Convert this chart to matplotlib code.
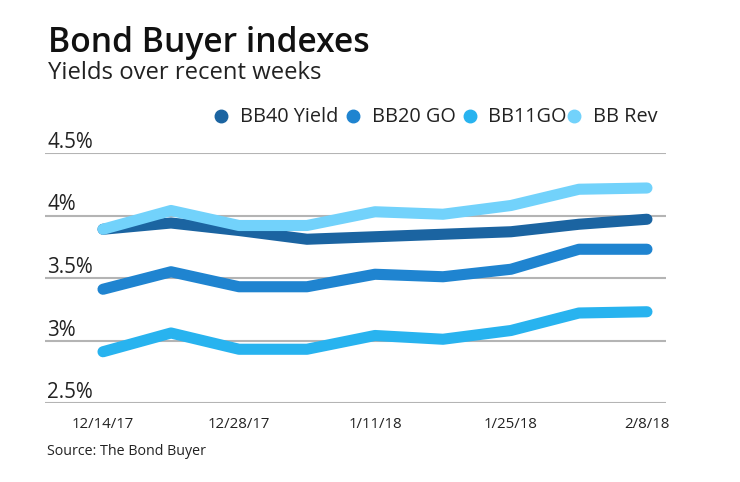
import matplotlib
matplotlib.use("Agg")
import matplotlib.pyplot as plt
from matplotlib.lines import Line2D
import matplotlib.transforms as mtransforms

plt.rcParams['font.family'] = ['Open Sans', 'DejaVu Sans']

dates = ["12/14/17", "12/21/17", "12/28/17", "1/4/18", "1/11/18",
         "1/18/18", "1/25/18", "2/1/18", "2/8/18"]
tick_labels = ["12/14/17", "12/28/17", "1/11/18", "1/25/18", "2/8/18"]
series_names = ["BB40 Yield", "BB20 GO", "BB11GO", "BB Rev"]
bb40 = [3.89, 3.94, 3.88, 3.81, 3.83, 3.85, 3.87, 3.93, 3.97]
bb20 = [3.41, 3.55, 3.43, 3.43, 3.53, 3.51, 3.57, 3.73, 3.73]
bb11 = [2.91, 3.06, 2.93, 2.93, 3.04, 3.01, 3.08, 3.22, 3.23]
bbrev = [3.89, 4.04, 3.92, 3.92, 4.03, 4.01, 4.08, 4.21, 4.22]
yticks = [2.5, 3.0, 3.5, 4.0, 4.5]
ytick_labels = ["2.5%", "3%", "3.5%", "4%", "4.5%"]
colors = ["#1b64a1", "#1f84d0", "#28b3ef", "#72d2fb"]

W, H = 740, 482
fig = plt.figure(figsize=(W/100, H/100), dpi=100)
ax = fig.add_axes([45/W, 1-403/H, (666-45)/W, (403-153)/H])

x = list(range(len(dates)))
data = [bb40, bb20, bb11, bbrev]
order = [1, 2, 0, 3]
for i in order:
    ax.plot(x, data[i], color=colors[i], lw=8, solid_capstyle='round',
            solid_joinstyle='round', zorder=3 + (1 if i == 3 else 0))

ax.set_xlim(-0.853, 8.28)
ax.set_ylim(2.5, 4.5)
for yv in yticks:
    ax.axhline(yv, color="#b4b4b4", lw=1.5, zorder=1)

ax.set_yticks([])
ax.set_xticks([x[dates.index(t)] for t in tick_labels])
ax.set_xticklabels(tick_labels, fontsize=10.8, color="#222222")
ax.tick_params(axis='x', length=0, pad=10)
for s in ax.spines.values():
    s.set_visible(False)

ytr = mtransforms.blended_transform_factory(ax.transAxes, ax.transData) + \
    mtransforms.ScaledTranslation(0, 5/100, fig.dpi_scale_trans)
for yv, lab in zip(yticks, ytick_labels):
    ax.text(2/621, yv, lab, transform=ytr, ha='left', va='baseline',
            fontsize=14.8, color="#222222")

fig.text(48/W, 1-52/H, "Bond Buyer indexes", fontsize=24.2, fontweight='semibold',
         color="#111111", ha='left', va='baseline')
fig.text(48/W, 1-79/H, "Yields over recent weeks", fontsize=17.2,
         color="#222222", ha='left', va='baseline')
fig.text(47/W, 1-455/H, "Source: The Bond Buyer", fontsize=10.3,
         color="#222222", ha='left', va='baseline')

# legend (manual layout)
marker_x = [221, 353, 470, 574]
text_x = [240, 372, 488, 593]
for mx, tx, c, name in zip(marker_x, text_x, colors, series_names):
    fig.add_artist(Line2D([mx/W], [1-116/H], marker='o', ls='none', color=c,
                          markersize=9, transform=fig.transFigure))
    fig.text(tx/W, 1-122/H, name, fontsize=14.3, color="#222222",
             ha='left', va='baseline')

fig.savefig("out.png", dpi=100)
